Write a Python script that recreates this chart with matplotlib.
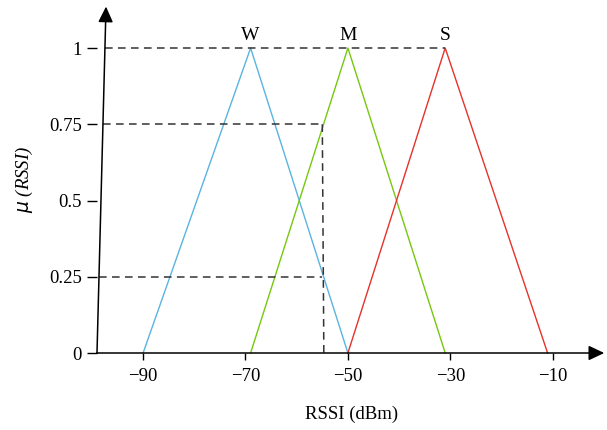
import matplotlib.pyplot as plt

plt.rcParams['font.family'] = ['Liberation Serif', 'DejaVu Serif']

# membership functions (RSSI in dBm)
weak_x = [-90, -69, -50]
medium_x = [-69, -50, -31]
strong_x = [-50, -31, -11]
tri_y = [0, 1, 0]
names = ['W', 'M', 'S']
peaks = [-69, -50, -31]
colors = ['#5ab4e0', '#76c80e', '#e5322b']

xticks = [-90, -70, -50, -30, -10]
yticks = [0, 0.25, 0.5, 0.75, 1]
ytick_labels = ['0', '0.25', '0.5', '0.75', '1']

# example reading at -55 dBm
x_read = -55
mu_high = 0.75
mu_low = 0.25

fig = plt.figure(figsize=(6.07, 4.30), dpi=100)
ax = fig.add_axes([97 / 607, 77 / 430, 510 / 607, 348 / 430])
x0, x1 = -99, 0.6
y0, y1 = 0, 1.141
ax.set_xlim(x0, x1)
ax.set_ylim(y0, y1)
for s in ax.spines.values():
    s.set_visible(False)

for xs, c in zip([weak_x, medium_x, strong_x], colors):
    ax.plot(xs, tri_y, color=c, lw=1.0, clip_on=False)

for n, p in zip(names, peaks):
    ax.text(p, 1.012, n, ha='center', va='bottom', fontsize=14)

dash = dict(color='#333333', lw=1.1, ls=(0, (5, 3.5)))
# slanted y axis: x position shifts slightly with height
def axis_x(y):
    return x0 + y * 1.55

ax.plot([axis_x(1), strong_x[1]], [1, 1], **dash)
ax.plot([axis_x(mu_high), x_read], [mu_high, mu_high], **dash)
ax.plot([axis_x(mu_low), x_read], [mu_low, mu_low], **dash)
ax.plot([x_read, x_read + 0.3], [mu_high, 0], **dash)

# axes drawn by hand
head = dict(arrowstyle='-|>,head_length=0.95,head_width=0.45', color='black', lw=1.1)
ax.plot([x0, x1 - 2.4], [0, 0], color='black', lw=1.1, clip_on=False)
ax.annotate('', xy=(x1, 0), xytext=(x1 - 2.8, 0), arrowprops=head,
            annotation_clip=False)
ax.plot([x0, axis_x(1.10)], [0, 1.10], color='black', lw=1.1, clip_on=False)
ax.annotate('', xy=(axis_x(1.145), 1.145), xytext=(axis_x(1.10), 1.10),
            arrowprops=head, annotation_clip=False)

ax.set_xticks(xticks)
ax.set_xticklabels([str(t).replace('-', '\u2212') for t in xticks])
ax.set_yticks(yticks)
ax.set_yticklabels(ytick_labels)
ax.tick_params(axis='x', direction='out', length=5, width=1, pad=6, labelsize=13.5)
ax.tick_params(axis='y', direction='out', length=7, width=1, pad=4, labelsize=13.5)

ax.set_xlabel('RSSI (dBm)', fontsize=13.5, labelpad=15)
ax.set_ylabel('$\\mu$ (RSSI)', fontsize=13.5, style='italic', labelpad=10)

fig.savefig('out.png', dpi=100)
